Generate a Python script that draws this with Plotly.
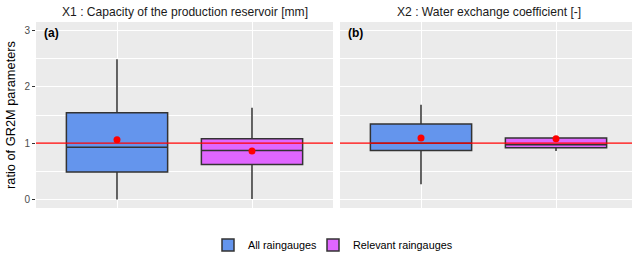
import plotly.graph_objects as go

panels = ["X1 : Capacity of the production reservoir [mm]", "X2 : Water exchange coefficient [-]"]
panel_tags = ["(a)", "(b)"]
groups = ["All raingauges", "Relevant raingauges"]
colors = ["#6495ED", "#E066FF"]

# per group: values for [X1, X2]
q1 = {"All raingauges": [0.49, 0.87], "Relevant raingauges": [0.62, 0.92]}
med = {"All raingauges": [0.93, 1.00], "Relevant raingauges": [0.87, 0.97]}
q3 = {"All raingauges": [1.54, 1.34], "Relevant raingauges": [1.08, 1.09]}
lo = {"All raingauges": [0.00, 0.27], "Relevant raingauges": [0.01, 0.86]}
hi = {"All raingauges": [2.49, 1.68], "Relevant raingauges": [1.63, 1.11]}
mean = {"All raingauges": [1.06, 1.09], "Relevant raingauges": [0.86, 1.08]}
ref_value = 1.0

W, H = 632, 256
L, T, B = 36, 22, 48
pw = W - L
ph = H - T - B
legend_ids = ["legend", "legend2"]
legend_x = [208, 313]
fig = go.Figure()
axes = [("x", "y"), ("x2", "y2")]
for p in range(2):
    xa, ya = axes[p]
    for g, grp in enumerate(groups):
        fig.add_trace(go.Box(
            x=[g + 1], q1=[q1[grp][p]], median=[med[grp][p]], q3=[q3[grp][p]],
            lowerfence=[lo[grp][p]], upperfence=[hi[grp][p]],
            name=grp, legend=legend_ids[g], showlegend=(p == 0),
            fillcolor=colors[g], line=dict(color="#333333", width=1.5),
            whiskerwidth=0, width=0.75, boxpoints=False,
            xaxis=xa, yaxis=ya, hoverinfo="skip"))
    fig.add_trace(go.Scatter(
        x=[1, 2], y=[mean[grp][p] for grp in groups], mode="markers",
        marker=dict(color="red", size=7), showlegend=False, xaxis=xa, yaxis=ya))
    fig.add_shape(type="line", xref=f"{xa} domain", yref=ya, x0=0, x1=1,
                  y0=ref_value, y1=ref_value, line=dict(color="red", width=1.3), layer="above")

d1 = (333 - L) / pw
d2 = (340 - L) / pw
grid = dict(showgrid=True, gridcolor="white", gridwidth=1.2, zeroline=False,
            minor=dict(showgrid=True, gridcolor="white", gridwidth=0.6, dtick=0.5))
xcommon = dict(tickvals=[1, 2], ticktext=["", ""], showgrid=True, gridcolor="white",
               gridwidth=1.2, zeroline=False, ticks="")
leg_common = dict(orientation="h", xref="container", yref="container", xanchor="left",
                  y=(H - 245) / H, yanchor="middle", font=dict(size=10.8, color="black"),
                  itemwidth=30, bgcolor="rgba(0,0,0,0)")
fig.update_layout(
    width=W, height=H, margin=dict(l=L, r=0, t=T, b=B, autoexpand=False),
    paper_bgcolor="white", plot_bgcolor="#EBEBEB",
    font=dict(family="Liberation Sans, Arial, sans-serif", color="#1a1a1a"),
    xaxis=dict(domain=[0, d1], range=[0.4, 2.6], **xcommon),
    xaxis2=dict(domain=[d2, 1], range=[0.4, 0.4 + 292 / 135], **xcommon),
    yaxis=dict(range=[-0.15, 3.15], tickvals=[0, 1, 2, 3], ticks="outside", ticklen=3,
               tickcolor="#333333", tickfont=dict(size=10, color="#4D4D4D"),
               title=dict(text="ratio of GR2M parameters", font=dict(size=12.8, color="black"), standoff=5),
               **grid),
    yaxis2=dict(range=[-0.15, 3.15], tickvals=[0, 1, 2, 3], showticklabels=False, anchor="x2", **grid),
    legend=dict(x=legend_x[0] / W, **leg_common),
    legend2=dict(x=legend_x[1] / W, **leg_common),
    showlegend=True,
)
# panel titles
centers = [(36 + 333) / 2, (340 + 637) / 2]
for p in range(2):
    fig.add_annotation(text=panels[p], xref="paper", yref="paper",
                       x=(centers[p] - L) / pw, y=1, yanchor="bottom", xanchor="center",
                       showarrow=False, font=dict(size=12.1, color="#1a1a1a"), yshift=1)
    xa = "x" if p == 0 else "x2"
    fig.add_annotation(text=f"<b>{panel_tags[p]}</b>", xref=f"{xa} domain", yref="paper",
                       x=0.02, y=1 - (33 - T) / ph,
                       xanchor="left", yanchor="middle", showarrow=False,
                       font=dict(size=12, color="black"))
fig.write_html("out.html", config={"displayModeBar": False},
               post_script="document.body.style.margin='0';")
